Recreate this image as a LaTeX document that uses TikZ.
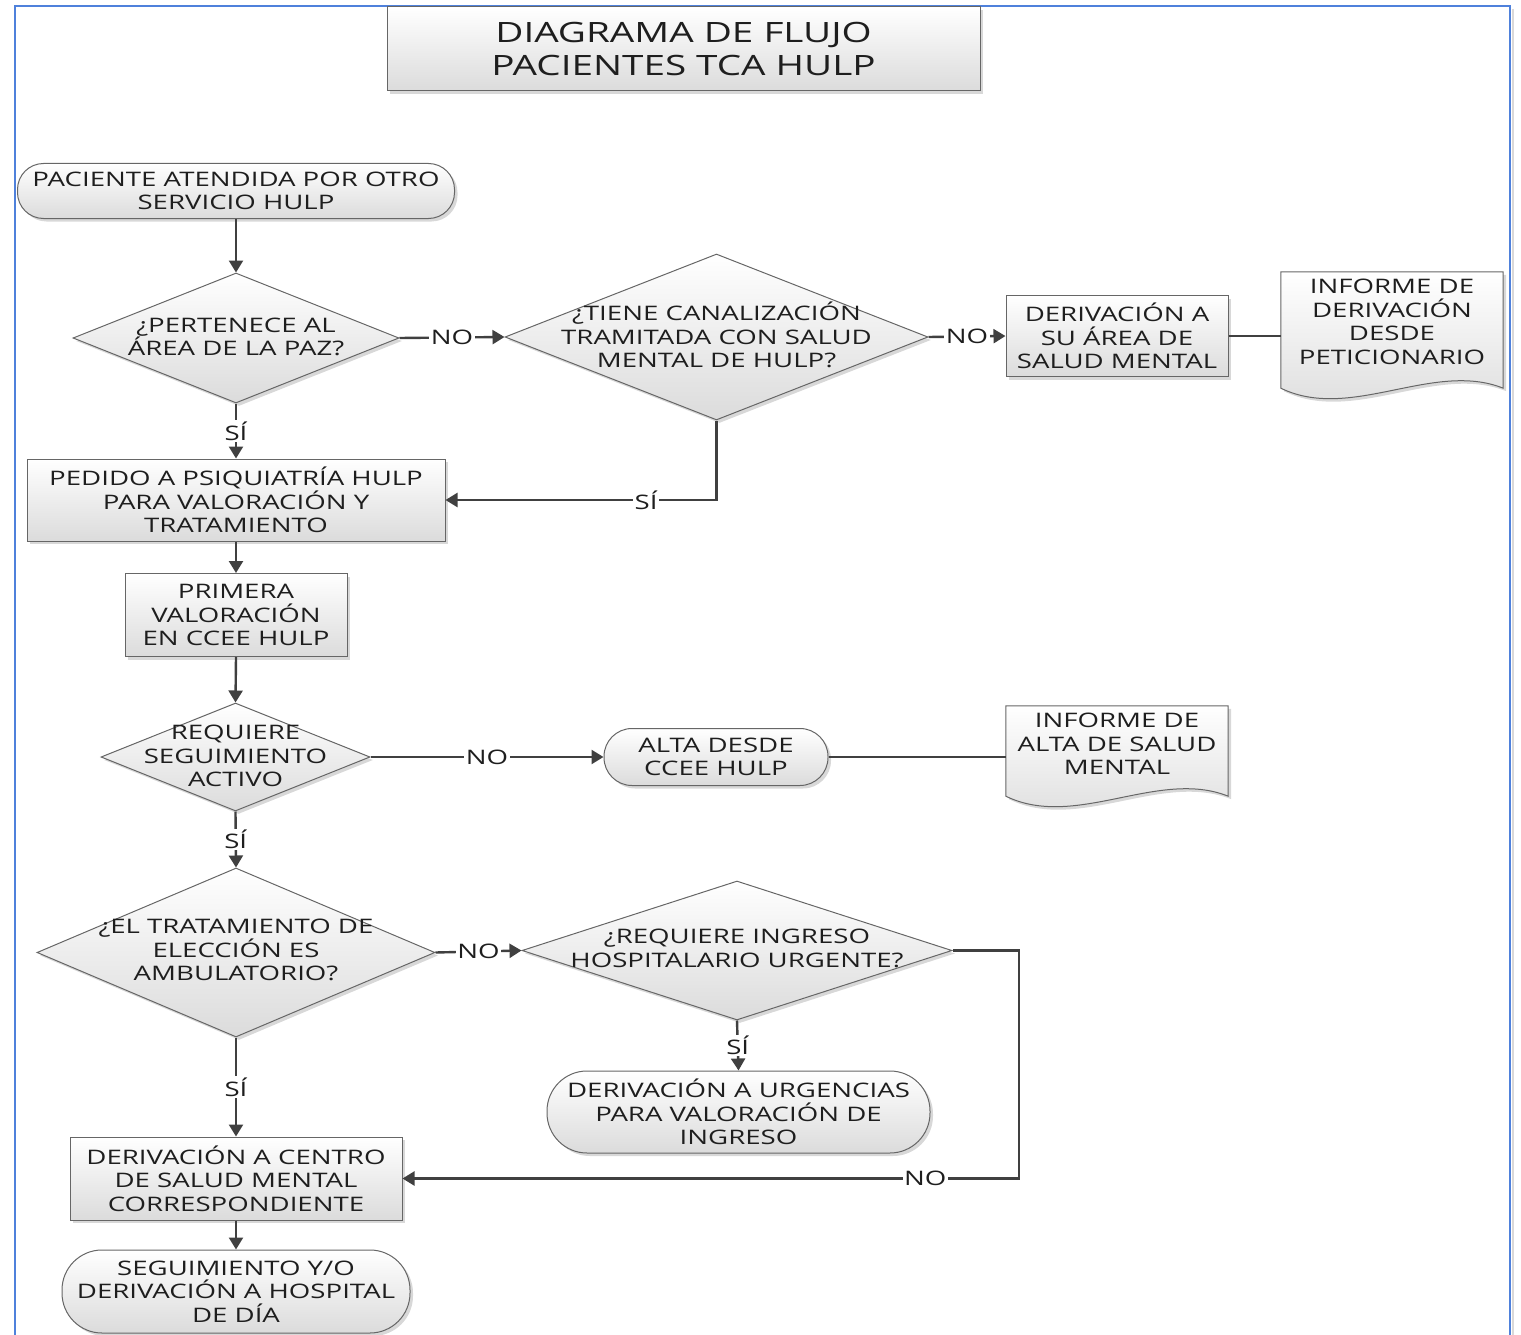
\documentclass[tikz,border=0pt]{standalone}
\usepackage{fontspec}
\setmainfont{Open Sans}[FakeStretch=1.38]
\usetikzlibrary{shapes.geometric,arrows.meta,shadows,calc}
\definecolor{framebl}{RGB}{79,129,219}
\definecolor{ink}{RGB}{30,30,30}
\definecolor{linec}{RGB}{64,64,64}
\begin{document}
\begin{tikzpicture}[x=1pt,y=-1pt,
  txt/.style={text=ink, font=\fontsize{20}{23.5}\selectfont, align=center, inner sep=0pt},
  base/.style={draw=black!60, line width=1pt, top color=white, bottom color=black!14,
    drop shadow={shadow xshift=3pt,shadow yshift=-3pt,opacity=0.22,fill=black!70}},
  proc/.style={base, rectangle, txt},
  term/.style={base, rectangle, txt},
  dec/.style={base, diamond, inner sep=0pt},
  hold/.style={rectangle, inner sep=0pt},
  conn/.style={draw=linec, line width=2.4pt},
  arr/.style={conn, -{Triangle[length=12pt,width=14pt]}},
  lbl/.style={txt, fill=white, inner sep=1.5pt}
]
\useasboundingbox (0,0) rectangle (1521,1335);
\clip (0,0) rectangle (1521,1335);

% outer frame
\draw[black!15, line width=2pt] (1513,9) -- (1513,1360);
\draw[framebl, line width=1.8pt] (15,6) rectangle (1510,1360);

% title
\node[proc, minimum width=593pt, minimum height=84pt,
      font=\fontsize{28}{33}\selectfont] (title) at (683.5,49) {DIAGRAMA DE FLUJO\\PACIENTES TCA HULP};

% start
\node[term, rounded corners=26pt, minimum width=437pt, minimum height=55pt] (start) at (236,191)
  {PACIENTE ATENDIDA POR OTRO\\SERVICIO HULP};

% decision 1
\node[dec, minimum width=326pt, minimum height=130pt] (d1) at (236,338) {};
\node[txt] (d1t) at (236,337) {¿PERTENECE AL\\ÁREA DE LA PAZ?};

% decision 2
\node[dec, minimum width=423pt, minimum height=166pt] (d2) at (716.5,337) {};
\node[txt] (d2t) at (716.5,335) {¿TIENE CANALIZACIÓN\\TRAMITADA CON SALUD\\MENTAL DE HULP?};

% box 4
\node[proc, minimum width=222pt, minimum height=81pt] (b4) at (1117,336)
  {DERIVACIÓN A\\SU ÁREA DE\\SALUD MENTAL};

% document 5
\node[hold, minimum width=222pt, minimum height=128pt] (doc5) at (1392,336) {};
\path[base] (doc5.north west) -- (doc5.north east) -- ($(doc5.south east)+(0,-12)$)
  .. controls ($(doc5.south east)+(-70,-40)$) and ($(doc5.south west)+(70,22)$) .. ($(doc5.south west)+(0,-12)$) -- cycle;
\node[txt] (doc5t) at (1392,322) {INFORME DE\\DERIVACIÓN\\DESDE\\PETICIONARIO};

% box 6
\node[proc, minimum width=418pt, minimum height=82pt] (b6) at (236,500)
  {PEDIDO A PSIQUIATRÍA HULP\\PARA VALORACIÓN Y\\TRATAMIENTO};

% box 7
\node[proc, minimum width=222pt, minimum height=83pt] (b7) at (236,615)
  {PRIMERA\\VALORACIÓN\\EN CCEE HULP};

% decision 8
\node[dec, minimum width=269pt, minimum height=108pt] (d8) at (235.5,757) {};
\node[txt] (d8t) at (235.5,756) {REQUIERE\\SEGUIMIENTO\\ACTIVO};

% terminator 9
\node[term, rounded corners=28pt, minimum width=224pt, minimum height=57pt] (t9) at (716,757)
  {ALTA DESDE\\CCEE HULP};

% document 10
\node[hold, minimum width=222pt, minimum height=102pt] (doc10) at (1117,757) {};
\path[base] (doc10.north west) -- (doc10.north east) -- ($(doc10.south east)+(0,-12)$)
  .. controls ($(doc10.south east)+(-70,-40)$) and ($(doc10.south west)+(70,22)$) .. ($(doc10.south west)+(0,-12)$) -- cycle;
\node[txt] (doc10t) at (1117,744) {INFORME DE\\ALTA DE SALUD\\MENTAL};

% decision 11
\node[dec, minimum width=398pt, minimum height=169pt] (d11) at (236,952.5) {};
\node[txt] (d11t) at (236,950) {¿EL TRATAMIENTO DE\\ELECCIÓN ES\\AMBULATORIO?};

% decision 12
\node[dec, minimum width=430pt, minimum height=139pt] (d12) at (737,950.5) {};
\node[txt] (d12t) at (737,948.5) {¿REQUIERE INGRESO\\HOSPITALARIO URGENTE?};

% terminator 13
\node[term, rounded corners=40pt, minimum width=383pt, minimum height=82pt] (t13) at (738.5,1112)
  {DERIVACIÓN A URGENCIAS\\PARA VALORACIÓN DE\\INGRESO};

% box 14
\node[proc, minimum width=332pt, minimum height=83pt] (b14) at (236,1178.5)
  {DERIVACIÓN A CENTRO\\DE SALUD MENTAL\\CORRESPONDIENTE};

% terminator 15
\node[term, rounded corners=40pt, minimum width=348pt, minimum height=83pt] (t15) at (236,1291.5)
  {SEGUIMIENTO Y/O\\DERIVACIÓN A HOSPITAL\\DE DÍA};

% connectors
\draw[arr] (start.south) -- (d1.north);
\draw[arr] (d1.east) -- node[lbl]{NO} (d2.west);
\draw[arr] (d2.east) -- node[lbl]{NO} (b4.west);
\draw[conn] (b4.east) -- (doc5.west);
\draw[arr] (d1.south) -- node[lbl]{SÍ} (b6.north);
\draw[arr] (d2.south) |- node[lbl, pos=0.63]{SÍ} (b6.east);
\draw[arr] (b6.south) -- (b7.north);
\draw[arr] (b7.south) -- (d8.north);
\draw[arr] (d8.east) -- node[lbl]{NO} (t9.west);
\draw[conn] (t9.east) -- (doc10.west);
\draw[arr] (d8.south) -- node[lbl]{SÍ} (d11.north);
\draw[arr] (d11.east) -- node[lbl]{NO} (d12.west);
\draw[arr] (d12.south) -- node[lbl]{SÍ} (t13.north);
\coordinate (c12) at (1019,950.5);
\draw[arr] (d12.east) -- (c12) |- node[lbl, pos=0.576]{NO} (b14.east);
\draw[arr] (d11.south) -- node[lbl]{SÍ} (b14.north);
\draw[arr] (b14.south) -- (t15.north);
\end{tikzpicture}
\end{document}
